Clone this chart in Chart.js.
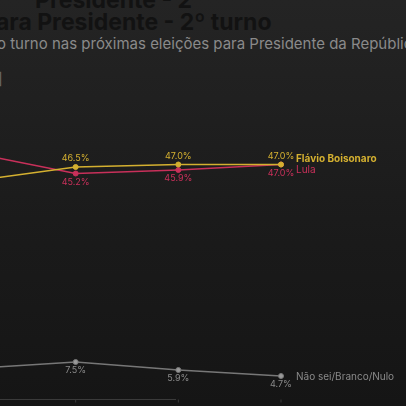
<!DOCTYPE html><html><head><meta charset="utf-8">
<script src="https://cdn.jsdelivr.net/npm/chart.js@4"></script>
<style>
html,body{margin:0;width:406px;height:406px;overflow:hidden;background:#1c1c1c;font-family:Inter,"Noto Sans",sans-serif}
#bg{position:absolute;left:0;top:0;width:406px;height:406px;background:linear-gradient(#242424,#1a1a1a 60%,#151515)}
.t{position:absolute;white-space:nowrap}
#wrap{position:absolute;left:-130px;top:0;width:536px;height:430px}
</style></head><body>
<div id="bg"></div>
<div class="t" style="left:35px;top:-14px;font-size:23px;font-weight:700;color:#121212">Presidente - 2º</div>
<div class="t" style="left:-4px;top:8px;font-size:23px;font-weight:700;color:#121212">ara Presidente - 2º turno</div>
<div class="t" style="left:-3px;top:34px;font-size:15px;color:#8a8a8a">o turno nas próximas eleições para Presidente da Repúblic</div>
<div class="t" style="left:-3px;top:68px;font-size:16px;color:#666">]</div>
<div id="wrap"><canvas id="c" width="536" height="430"></canvas></div>
<script>
const categories=["Set/25","Out/25","Nov/25","Dez/25"];
const flavio=[43.7,46.5,47.0,47.0];
const lula=[49.3,45.2,45.9,47.0];
const naoSei=[6.2,7.5,5.9,4.7];
const names=["Flávio Boisonaro","Lula","Não sei/Branco/Nulo"];
const colors=["#d4b030","#c8305a","#8a8a8a"];
const labelPlugin={id:"lbl",afterDatasetsDraw(ch){
 const c=ch.ctx,xs=ch.scales.x;
 c.save();
 c.strokeStyle="#3a3a3a";c.lineWidth=1;
 c.beginPath();c.moveTo(0,ch.chartArea.bottom);c.lineTo(ch.chartArea.right-105,ch.chartArea.bottom);c.stroke();
 c.fillStyle="#aaa";c.font="10px Inter";c.textAlign="center";
 categories.forEach((l,i)=>{const x=xs.getPixelForValue(i);c.beginPath();c.moveTo(x,ch.chartArea.bottom);c.lineTo(x,ch.chartArea.bottom+3);c.stroke();c.fillText(l,x,ch.chartArea.bottom+15);});
 ch.data.datasets.forEach((ds,di)=>{
  const m=ch.getDatasetMeta(di);
  c.fillStyle=colors[di];c.font="9px Inter";c.textAlign="center";
  m.data.forEach((p,i)=>{const above=di===0;c.fillText(ds.data[i].toFixed(1)+"%",p.x,above?p.y-6:p.y+11);});
  const last=m.data[m.data.length-1];
  c.textAlign="left";c.font=(di===0?"bold ":"")+"10px Inter";
  const dy=[-3,8,4][di];
  c.fillText(names[di],last.x+15,last.y+dy);
 });
 c.restore();}};
new Chart(document.getElementById("c"),{type:"line",
 data:{labels:categories,datasets:[
  {data:flavio,borderColor:colors[0],backgroundColor:colors[0]},
  {data:lula,borderColor:colors[1],backgroundColor:colors[1]},
  {data:naoSei,borderColor:"#777",backgroundColor:"#999"}]},
 options:{responsive:false,animation:false,devicePixelRatio:1,
  layout:{padding:{left:103,right:125,top:99.5,bottom:30.5}},
  elements:{line:{borderWidth:1.5,tension:0},point:{radius:2.5}},
  plugins:{legend:{display:false},tooltip:{enabled:false}},
  scales:{x:{display:false,offset:false},y:{display:false,min:0,max:60}}},
 plugins:[labelPlugin]});
</script></body></html>
